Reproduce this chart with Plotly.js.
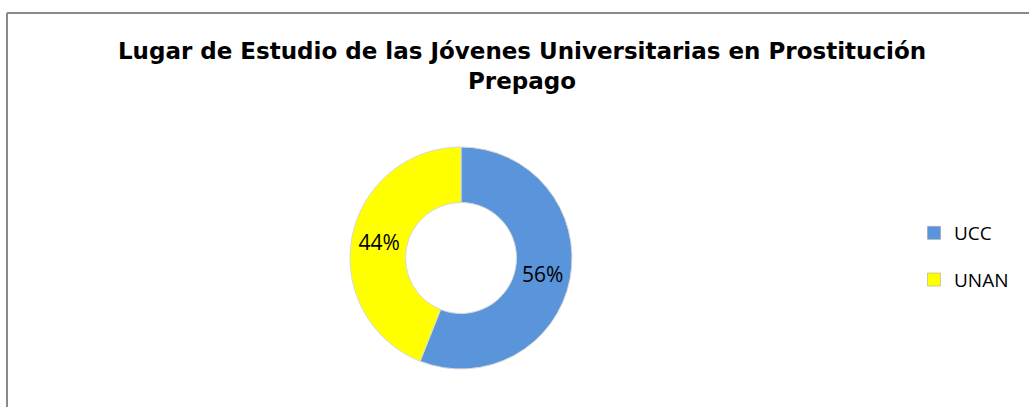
<!DOCTYPE html>
<html>
<head>
<meta charset="utf-8">
<script src="https://cdn.plot.ly/plotly-3.0.1.min.js"></script>
<style>html,body{margin:0;padding:0;background:#fff;}#chart{width:1029px;height:407px;}</style>
</head>
<body>
<div id="chart"></div>
<script>
const categories = ["UCC", "UNAN"];
const values = [56, 44];
const colors = ["#5A94DB", "#FFFF00"];
const chartTitle = "Lugar de Estudio de las Jóvenes Universitarias en Prostitución<br>Prepago";

const W = 1029, H = 407;
const pieTrace = {
  type: "pie",
  labels: categories,
  values: values,
  hole: 0.5,
  sort: false,
  direction: "clockwise",
  rotation: 0,
  texttemplate: "%{percent:.0%}",
  textposition: "inside",
  insidetextorientation: "horizontal",
  textfont: {family: "Open Sans, Liberation Sans, sans-serif", size: 21, color: "#000"},
  marker: {colors: colors, line: {color: "#d8d8d8", width: 1}},
  domain: {x: [350/W, 572/W], y: [(H-369)/H, (H-147)/H]},
  showlegend: false,
  hoverinfo: "label+percent"
};
// legend entries, one per category (no visible points)
const legendTraces = categories.map((c, i) => ({
  type: "scatter",
  mode: "markers",
  x: [null], y: [null],
  name: c,
  legendgroup: c,
  marker: {symbol: "square", size: 13, color: colors[i], line: {color: "#999", width: 0.5}},
  showlegend: true,
  hoverinfo: "skip"
}));
const layout = {
  width: W, height: H,
  margin: {l: 0, r: 0, t: 0, b: 0},
  paper_bgcolor: "#fff",
  plot_bgcolor: "rgba(0,0,0,0)",
  xaxis: {visible: false, domain: [0, 0.01]},
  yaxis: {visible: false, domain: [0, 0.01]},
  title: {
    text: chartTitle,
    font: {family: "DejaVu Sans, sans-serif", size: 23, color: "#000", weight: "bold"},
    x: 522/W, xanchor: "center", y: 1 - 59/H, yanchor: "top", yref: "container"
  },
  showlegend: true,
  legend: {
    x: 914/W, xanchor: "left", y: 1 - 214/H, yanchor: "top",
    font: {family: "Open Sans, Liberation Sans, sans-serif", size: 19, color: "#000"},
    itemwidth: 30, bgcolor: "rgba(0,0,0,0)", tracegroupgap: 19
  },
  shapes: [
    {type: "line", xref: "paper", yref: "paper", x0: 7/W, x1: 1, y0: 1 - 13/H, y1: 1 - 13/H, line: {color: "#8a8a8a", width: 2}},
    {type: "line", xref: "paper", yref: "paper", x0: 7/W, x1: 7/W, y0: 0, y1: 1 - 13/H, line: {color: "#8a8a8a", width: 2}}
  ]
};
Plotly.newPlot("chart", [pieTrace].concat(legendTraces), layout, {displayModeBar: false, staticPlot: true});
</script>
</body>
</html>
